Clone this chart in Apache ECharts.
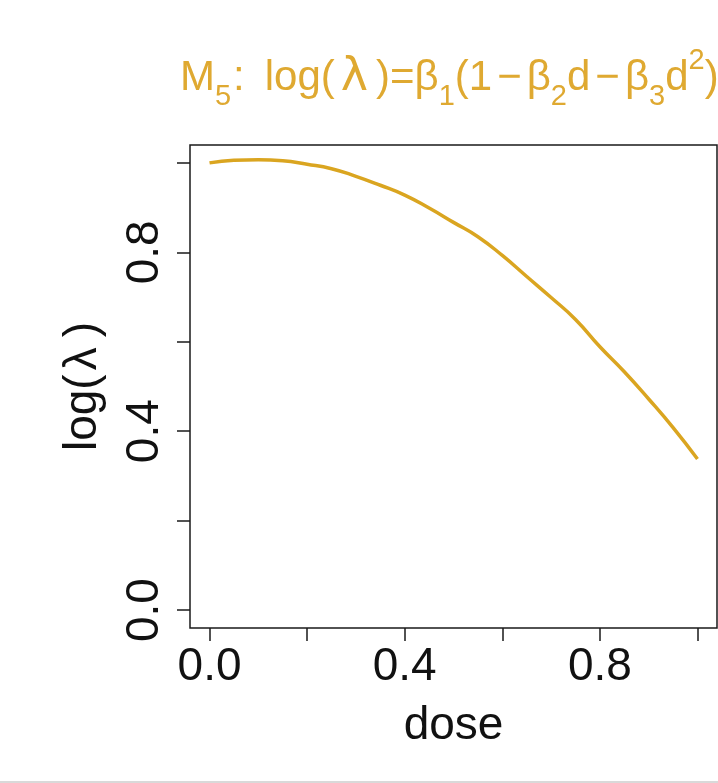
<!DOCTYPE html>
<html>
<head>
<meta charset="utf-8">
<script src="https://cdn.jsdelivr.net/npm/echarts@6/dist/echarts.min.js"></script>
<style>
html,body{margin:0;padding:0;background:#fff;}
#chart{width:718px;height:783px;}
</style>
</head>
<body>
<div id="chart"></div>
<script>
// ---- data ----
var doseValues = [0.00, 0.05, 0.10, 0.15, 0.20, 0.25, 0.30, 0.35, 0.40, 0.45, 0.50,
                  0.55, 0.60, 0.65, 0.70, 0.75, 0.80, 0.85, 0.90, 0.95, 1.00];
var logLambdaValues = [1.000, 1.006, 1.007, 1.005, 0.997, 0.987, 0.970, 0.950, 0.928, 0.899, 0.867,
                       0.835, 0.793, 0.746, 0.699, 0.650, 0.589, 0.533, 0.472, 0.408, 0.338];
var xTickValues = [0, 0.2, 0.4, 0.6, 0.8, 1.0];
var xLabelValues = [0, 0.4, 0.8];
var yTickValues = [0, 0.2, 0.4, 0.6, 0.8, 1.0];
var yLabelValues = [0, 0.4, 0.8];
var xAxisTitle = 'dose';
var yAxisTitle = '{a|log(}{l|λ}{a|)}';

var seriesData = doseValues.map(function (d, i) { return [d, logLambdaValues[i]]; });

var gold = '#DAA520';
var titleGold = '#DFA931';
var ink = '#1a1a1a';
var fontFam = '"Liberation Sans", Arial, Helvetica, sans-serif';

function rs(extra) {
  var o = {color: titleGold, fontFamily: fontFam, fontWeight: 'normal', fontSize: 42, lineHeight: 65};
  for (var k in extra) o[k] = extra[k];
  return o;
}

var chart = echarts.init(document.getElementById('chart'), null, {renderer: 'canvas'});
chart.setOption({
  backgroundColor: '#ffffff',
  animation: false,
  title: {
    text: '{a|M}{s|5}{c|:}{a|log}{a|(}{l|λ}{a|)=β}{s|1}{a|(1}{m|−}{a|β}{s|2}{a|d}{m|−}{a|β}{s|3}{a|d}{p|2}{a|)}',
    left: 180,
    top: 46,
    padding: 0,
    textStyle: {
      fontWeight: 'normal',
      rich: {
        a: rs({}),
        c: rs({padding: [0, 20, 0, 2]}),
        l: rs({fontSize: 46, fontFamily: '"DejaVu Sans", sans-serif', padding: [0, 8, 0, 6]}),
        m: rs({padding: [0, 5, 0, 5]}),
        s: rs({fontSize: 29, lineHeight: 18, verticalAlign: 'bottom'}),
        p: rs({fontSize: 29, lineHeight: 20, verticalAlign: 'top'})
      }
    }
  },
  grid: {
    left: 190, top: 145, right: 1, bottom: 155,
    show: true, borderColor: ink, borderWidth: 1.5, backgroundColor: 'transparent'
  },
  xAxis: {
    type: 'value', min: -0.04, max: 1.04,
    splitLine: {show: false},
    axisLine: {show: false, onZero: false},
    axisTick: {show: true, inside: false, length: 13, customValues: xTickValues,
               lineStyle: {color: ink, width: 1.5}},
    axisLabel: {customValues: xLabelValues, fontSize: 46, color: '#111', margin: 16,
                fontFamily: fontFam, formatter: function (v) { return v.toFixed(1); }},
    name: xAxisTitle, nameLocation: 'middle', nameGap: 75,
    nameTextStyle: {fontSize: 46, color: '#111', fontFamily: fontFam}
  },
  yAxis: {
    type: 'value', min: -0.04, max: 1.04,
    splitLine: {show: false},
    axisLine: {show: false, onZero: false},
    axisTick: {show: true, inside: false, length: 13, customValues: yTickValues,
               lineStyle: {color: ink, width: 1.5}},
    axisLabel: {customValues: yLabelValues, fontSize: 46, color: '#111', margin: 22, rotate: 90,
                fontFamily: fontFam, formatter: function (v) { return v.toFixed(1); }},
    name: yAxisTitle, nameLocation: 'middle', nameGap: 84, nameRotate: 90,
    nameTextStyle: {
      fontSize: 46, color: '#111', fontFamily: fontFam,
      rich: {
        a: {fontSize: 46, color: '#111', fontFamily: fontFam},
        l: {fontSize: 46, color: '#111', fontFamily: fontFam, padding: [0, 10, 0, 4]}
      }
    }
  },
  series: [{
    type: 'line',
    data: seriesData,
    smooth: true,
    showSymbol: false,
    lineStyle: {color: gold, width: 3.5},
    itemStyle: {color: gold}
  }],
  graphic: [{
    type: 'line',
    shape: {x1: 0, y1: 782, x2: 718, y2: 782},
    style: {stroke: '#d9d9d9', lineWidth: 2}
  }]
});
</script>
</body>
</html>
